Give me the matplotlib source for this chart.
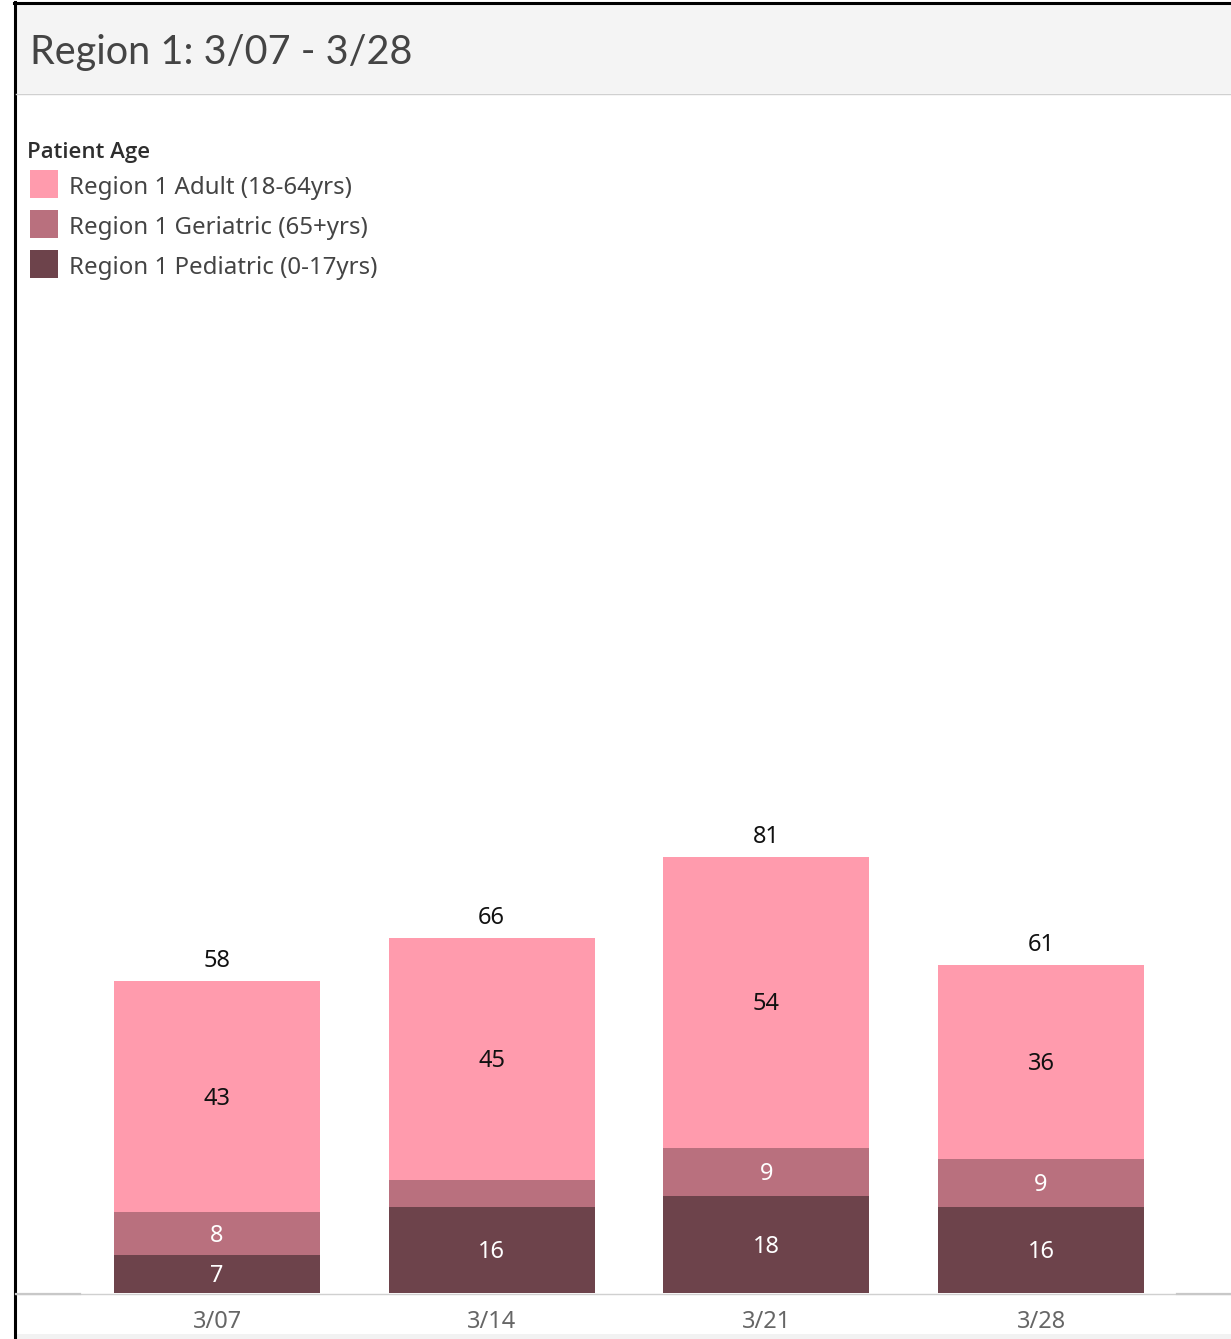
import matplotlib
matplotlib.use("Agg")
import matplotlib.pyplot as plt
from matplotlib.patches import Rectangle
from matplotlib.lines import Line2D

# Weekly patient counts by age group, Region 1
weeks = ["3/07", "3/14", "3/21", "3/28"]
pediatric = [7, 16, 18, 16]
geriatric = [8, 5, 9, 9]
adult = [43, 45, 54, 36]

series_names = ["Region 1 Adult (18-64yrs)",
                "Region 1 Geriatric (65+yrs)",
                "Region 1 Pediatric (0-17yrs)"]
col_adult = "#FF9BAD"
col_geri = "#B9707E"
col_ped = "#6D434B"

W, H = 1231, 1339
DPI = 100
PT = 72 / DPI  # points per pixel
plt.rcParams['font.family'] = ['Noto Sans', 'DejaVu Sans']

fig = plt.figure(figsize=(W / DPI, H / DPI), dpi=DPI)
fig.patch.set_facecolor("white")


def px_rect(x0, y0, x1, y1):
    """Convert pixel box (top-left origin) to figure fraction rect."""
    return [x0 / W, 1 - y1 / H, (x1 - x0) / W, (y1 - y0) / H]


def fx(x):
    return x / W


def fy(y):
    return 1 - y / H


# Title band and frame
fig.patches.append(Rectangle((fx(16), fy(93)), fx(1231) - fx(16), fy(4) - fy(93),
                             transform=fig.transFigure, facecolor="#F4F4F4",
                             edgecolor="none", zorder=0))
fig.patches.append(Rectangle((fx(16), fy(1339)), fx(1231) - fx(16), fy(1334) - fy(1339),
                             transform=fig.transFigure, facecolor="#F2F2F2",
                             edgecolor="none", zorder=0))
fig.lines.append(Line2D([fx(15), fx(15)], [fy(2), fy(1339)], transform=fig.transFigure,
                        color="black", linewidth=2.2))
fig.lines.append(Line2D([fx(14), fx(1231)], [fy(3), fy(3)], transform=fig.transFigure,
                        color="black", linewidth=2.2))
fig.lines.append(Line2D([fx(16), fx(1231)], [fy(94), fy(94)], transform=fig.transFigure,
                        color="#D0D0D0", linewidth=1.0))

fig.text(fx(30), fy(64), "Region 1: 3/07 - 3/28", fontsize=28.5, color="#444444",
         family=["Lato", "DejaVu Sans"], ha="left", va="baseline")

# Legend
fig.text(fx(27), fy(158), "Patient Age", fontsize=16, color="#2E2E2E",
         family=["Open Sans", "Noto Sans", "DejaVu Sans"], fontweight="semibold",
         ha="left", va="baseline")
legend_colors = [col_adult, col_geri, col_ped]
for i, (name, c) in enumerate(zip(series_names, legend_colors)):
    top = 170 + 40 * i
    fig.patches.append(Rectangle((fx(30), fy(top + 28)), fx(58) - fx(30), fy(top) - fy(top + 28),
                                 transform=fig.transFigure, facecolor=c,
                                 edgecolor="none"))
    fig.text(fx(69), fy(top + 24), name, fontsize=17.3, color="#444444",
             ha="left", va="baseline")

# Plot area
ax_top, ax_bot = 100, 1293
ax = fig.add_axes(px_rect(16, ax_top, 1231, ax_bot))
ax.set_facecolor("none")
px_per_unit = 5.38
spacing = 274.7
ax.set_ylim(0, (ax_bot - ax_top) / px_per_unit)
ax.set_xlim(-(217 - 16) / spacing, (1231 - 217) / spacing)
for s in ax.spines.values():
    s.set_visible(False)
ax.set_yticks([])
ax.set_xticks([])

x = list(range(len(weeks)))
bw = 206 / spacing
bottom_geri = pediatric
bottom_adult = [p + g for p, g in zip(pediatric, geriatric)]
totals = [p + g + a for p, g, a in zip(pediatric, geriatric, adult)]

ax.bar(x, pediatric, width=bw, color=col_ped, linewidth=0)
ax.bar(x, geriatric, width=bw, bottom=bottom_geri, color=col_geri, linewidth=0)
ax.bar(x, adult, width=bw, bottom=bottom_adult, color=col_adult, linewidth=0)

# segments shorter than this are left unlabelled
min_label_units = 6
for i in x:
    segs = [(pediatric[i], 0, "white"),
            (geriatric[i], bottom_geri[i], "white"),
            (adult[i], bottom_adult[i], "#111111")]
    for v, b, tc in segs:
        if v >= min_label_units:
            ax.annotate(str(v), (i, b + v / 2), xytext=(0, -2 * PT),
                        textcoords="offset points", ha="center", va="center",
                        fontsize=17, color=tc)
    ax.annotate(str(totals[i]), (i, totals[i]), xytext=(0, 20 * PT), textcoords="offset points",
                ha="center", va="center", fontsize=17, color="#111111")
    ax.annotate(weeks[i], (i, 0), xytext=(0, -29 * PT), textcoords="offset points",
                ha="center", va="center", fontsize=17, color="#666666",
                annotation_clip=False)

# Baseline rule
fig.lines.append(Line2D([fx(16), fx(1231)], [fy(1293.5), fy(1293.5)], transform=fig.transFigure,
                        color="#D0D0D0", linewidth=1.0))
fig.lines.append(Line2D([fx(16), fx(80)], [fy(1294), fy(1294)], transform=fig.transFigure,
                        color="#C8C8C8", linewidth=1.6))
fig.lines.append(Line2D([fx(1177), fx(1231)], [fy(1294), fy(1294)], transform=fig.transFigure,
                        color="#C8C8C8", linewidth=1.6))

fig.savefig("out.png", dpi=DPI)
